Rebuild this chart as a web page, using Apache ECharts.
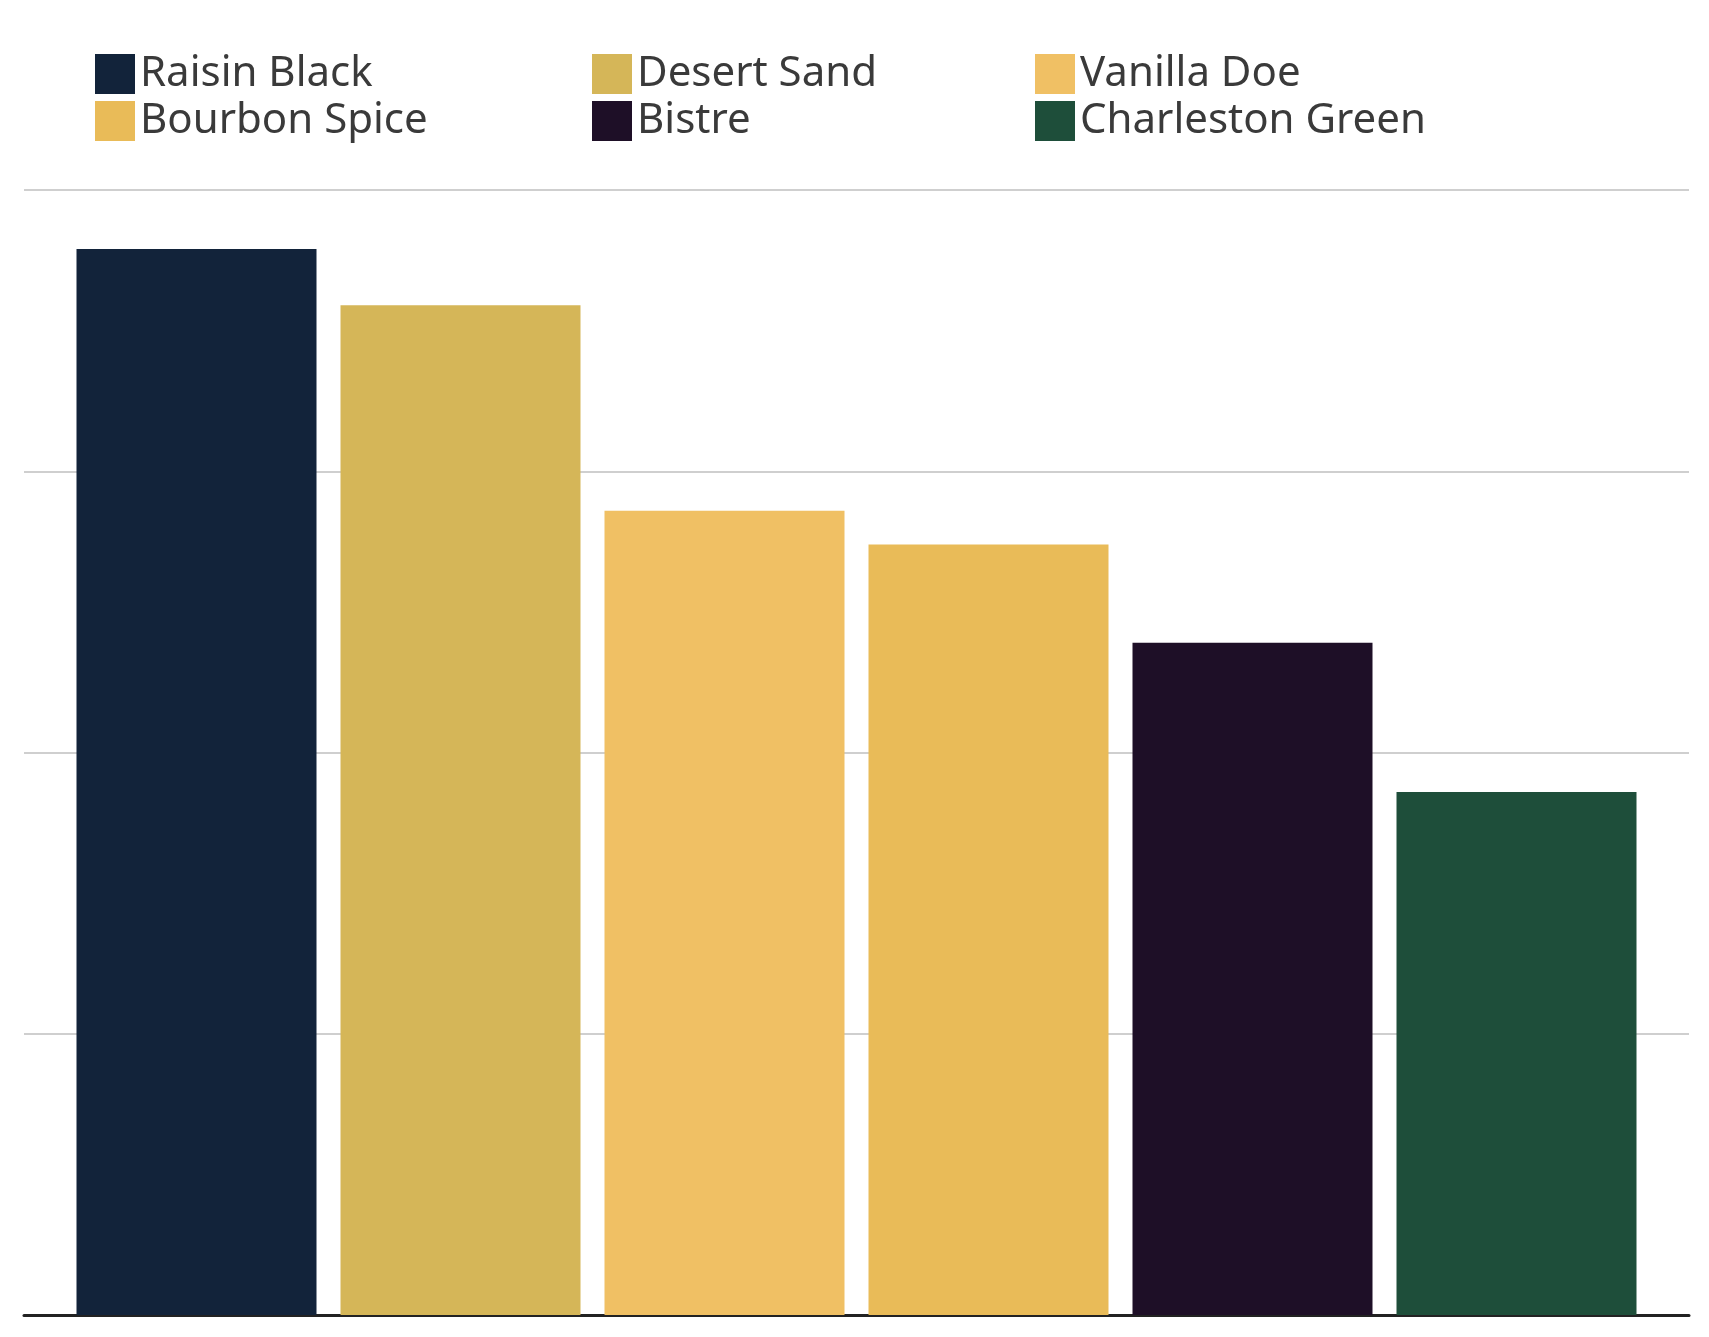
<!DOCTYPE html>
<html>
<head>
<meta charset="utf-8">
<script src="https://cdn.jsdelivr.net/npm/echarts@6/dist/echarts.min.js"></script>
<style>html,body{margin:0;background:#fff}#chart{width:1709px;height:1337px}</style>
</head>
<body>
<div id="chart"></div>
<script>
const names = ["Raisin Black", "Desert Sand", "Vanilla Doe", "Bourbon Spice", "Bistre", "Charleston Green"];
const values = [3.79, 3.59, 2.86, 2.74, 2.39, 1.86];
const palette = ["#12233a", "#d5b658", "#f0c064", "#e9bb58", "#1e0f27", "#1e4e3a"];
const legendColumns = [["Raisin Black", "Bourbon Spice"], ["Desert Sand", "Bistre"], ["Vanilla Doe", "Charleston Green"]];
const legendLeft = [90, 587, 1030];

const chart = echarts.init(document.getElementById("chart"));
chart.setOption({
  animation: false,
  legend: legendColumns.map((col, i) => ({
    data: col,
    orient: "vertical",
    left: legendLeft[i],
    top: 48,
    itemWidth: 40,
    itemHeight: 40,
    itemGap: 5,
    icon: "rect",
    textStyle: { fontSize: 42, color: "#3a3a3a", fontFamily: "Noto Sans" },
  })),
  grid: { left: 24, right: 20, top: 190, bottom: 22 },
  xAxis: {
    type: "category",
    data: [""],
    axisLine: { lineStyle: { color: "#222", width: 3 } },
    axisTick: { show: false },
    axisLabel: { show: false },
  },
  yAxis: {
    type: "value",
    min: 0,
    max: 4,
    interval: 1,
    axisLabel: { show: false },
    splitLine: { lineStyle: { color: "#cfcfcf", width: 2 } },
  },
  series: names.map((name, i) => ({
    name,
    type: "bar",
    barWidth: 240,
    barGap: "10%",
    itemStyle: { color: palette[i] },
    data: [values[i]],
  })),
});
</script>
</body>
</html>
